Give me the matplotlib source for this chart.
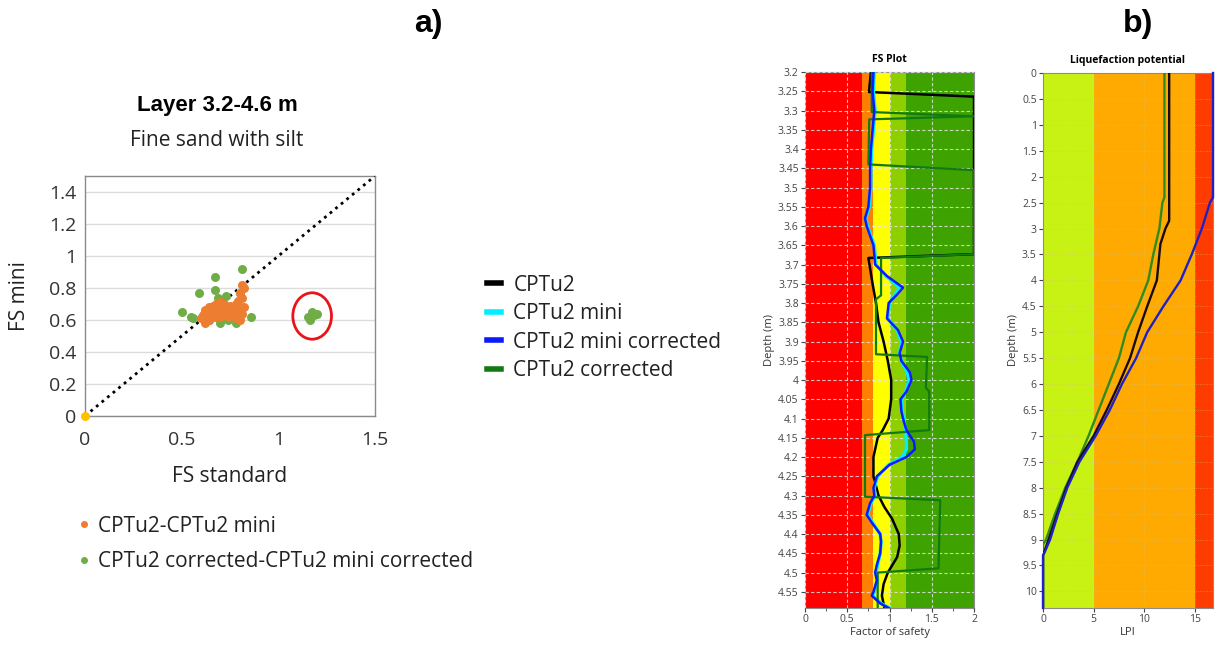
import matplotlib
matplotlib.use("Agg")
import matplotlib.pyplot as plt
from matplotlib.patches import Ellipse
from matplotlib.lines import Line2D
from matplotlib.ticker import MultipleLocator, FuncFormatter

plt.rcParams['font.family'] = ['Open Sans', 'DejaVu Sans']

# ---------------- data: panel a (scatter) ----------------
orange_x = [0.60, 0.61, 0.62, 0.62, 0.63, 0.64, 0.64, 0.65, 0.66, 0.66, 0.67, 0.68, 0.68, 0.69, 0.70,
            0.70, 0.71, 0.72, 0.72, 0.73, 0.74, 0.75, 0.75, 0.76, 0.77, 0.78, 0.78, 0.79, 0.79, 0.80,
            0.80, 0.81, 0.81, 0.82, 0.82, 0.81, 0.80, 0.78, 0.76, 0.74, 0.72, 0.70, 0.68, 0.66, 0.64, 0.62]
orange_y = [0.61, 0.63, 0.60, 0.66, 0.65, 0.62, 0.68, 0.66, 0.63, 0.69, 0.66, 0.64, 0.70, 0.67, 0.65,
            0.71, 0.68, 0.64, 0.70, 0.67, 0.66, 0.63, 0.69, 0.68, 0.65, 0.62, 0.70, 0.66, 0.72, 0.60,
            0.68, 0.64, 0.74, 0.68, 0.80, 0.82, 0.77, 0.61, 0.64, 0.62, 0.66, 0.62, 0.62, 0.62, 0.60, 0.58]
green_x = [0.50, 0.55, 0.56, 0.59, 0.67, 0.67, 0.69, 0.70, 0.73, 0.74, 0.78, 0.79, 0.80, 0.81, 0.86,
           0.72, 0.76, 0.64, 0.70, 1.155, 1.164, 1.172, 1.182, 1.198]
green_y = [0.65, 0.62, 0.61, 0.77, 0.87, 0.79, 0.74, 0.72, 0.75, 0.60, 0.58, 0.60, 0.77, 0.92, 0.62,
           0.61, 0.63, 0.60, 0.58, 0.62, 0.60, 0.65, 0.63, 0.64]
diag_x = [0, 1.5]
diag_y = [0, 1.5]
scatter_xticks = [0, 0.5, 1, 1.5]
scatter_yticks = [0, 0.2, 0.4, 0.6, 0.8, 1.0, 1.2, 1.4]

# ---------------- data: FS plot ----------------
fs_bands = [(0, 0.68, '#ff0000'), (0.68, 0.8, '#ff8000'), (0.8, 1.0, '#ffff00'),
            (1.0, 1.2, '#8fcf00'), (1.2, 2.0, '#3ea300')]
blk_depth = [3.2, 3.252, 3.264, 3.673, 3.683, 3.75, 3.8, 3.85, 3.9, 3.95, 4.0, 4.05, 4.1, 4.13,
             4.15, 4.2, 4.25, 4.3, 4.33, 4.36, 4.4, 4.43, 4.46, 4.5, 4.53, 4.56, 4.592]
blk_fs = [0.78, 0.757, 2.0, 2.0, 0.75, 0.80, 0.84, 0.87, 0.93, 0.98, 1.02, 1.02, 0.99, 0.92,
          0.86, 0.81, 0.81, 0.87, 0.94, 1.03, 1.11, 1.12, 1.09, 0.98, 0.93, 0.91, 0.94]
blue_depth = [3.2, 3.25, 3.3, 3.35, 3.4, 3.45, 3.5, 3.55, 3.58, 3.6, 3.65, 3.7, 3.73, 3.76, 3.78,
              3.8, 3.84, 3.87, 3.9, 3.93, 3.95, 3.98, 4.0, 4.03, 4.05, 4.08, 4.1, 4.13, 4.16, 4.18,
              4.2, 4.22, 4.25, 4.28, 4.3, 4.32, 4.35, 4.37, 4.4, 4.42, 4.45, 4.48, 4.5, 4.52, 4.55,
              4.56, 4.58, 4.592]
blue_fs = [0.81, 0.80, 0.82, 0.80, 0.78, 0.77, 0.77, 0.75, 0.71, 0.73, 0.81, 0.83, 0.97, 1.16, 1.08,
           0.99, 0.97, 1.10, 1.16, 1.12, 1.14, 1.24, 1.26, 1.20, 1.13, 1.14, 1.16, 1.20, 1.29, 1.30,
           1.20, 1.00, 0.85, 0.81, 0.82, 0.77, 0.73, 0.79, 0.89, 0.90, 0.89, 0.85, 0.83, 0.85, 0.81,
           0.79, 0.89, 0.99]
cyan_fs = [0.82, 0.81, 0.83, 0.81, 0.79, 0.78, 0.78, 0.76, 0.72, 0.74, 0.82, 0.84, 0.96, 1.12, 1.06,
           1.00, 0.98, 1.09, 1.14, 1.12, 1.14, 1.21, 1.23, 1.19, 1.14, 1.15, 1.17, 1.19, 1.20, 1.20,
           1.15, 0.99, 0.86, 0.82, 0.83, 0.78, 0.74, 0.80, 0.89, 0.90, 0.89, 0.86, 0.84, 0.86, 0.82,
           0.80, 0.90, 1.00]
grn_depth = [3.2, 3.304, 3.315, 3.323, 3.44, 3.455, 3.673, 3.683, 3.78, 3.79, 3.933, 3.94, 4.02,
             4.03, 4.13, 4.143, 4.303, 4.312, 4.489, 4.50, 4.592]
grn_fs = [0.79, 0.79, 2.0, 0.76, 0.75, 2.0, 2.0, 0.90, 0.90, 0.84, 0.84, 1.445, 1.43,
          1.47, 1.47, 0.71, 0.71, 1.60, 1.58, 0.86, 0.86]
fs_yticks = [3.2, 3.25, 3.3, 3.35, 3.4, 3.45, 3.5, 3.55, 3.6, 3.65, 3.7, 3.75, 3.8, 3.85, 3.9,
             3.95, 4.0, 4.05, 4.1, 4.15, 4.2, 4.25, 4.3, 4.35, 4.4, 4.45, 4.5, 4.55]

# ---------------- data: LPI plot ----------------
lpi_bands = [(0, 5, '#c8f214'), (5, 15, '#ffaa00'), (15, 16.8, '#ff3c00')]
lpi_blk_d = [0, 2.85, 3.0, 3.3, 3.5, 4.0, 4.5, 5.0, 5.5, 6.0, 6.5, 7.0, 7.5, 8.0, 8.5, 9.0, 9.25, 9.3, 10.32]
lpi_blk_v = [12.47, 12.47, 12.1, 11.6, 11.5, 11.25, 10.3, 9.4, 8.6, 7.5, 6.3, 5.0, 3.4, 2.3, 1.4, 0.55, 0.1, 0.0, 0.0]
lpi_blu_d = [0, 2.4, 2.5, 3.0, 3.5, 4.0, 4.5, 5.0, 5.5, 6.0, 6.5, 7.0, 7.5, 8.0, 8.5, 9.0, 9.25, 9.3, 10.32]
lpi_blu_v = [16.8, 16.8, 16.5, 15.7, 14.7, 13.6, 11.9, 10.3, 9.2, 7.8, 6.6, 5.2, 3.6, 2.4, 1.5, 0.7, 0.15, 0.0, 0.0]
lpi_grn_d = [0, 2.4, 2.5, 3.0, 3.5, 4.0, 4.5, 5.0, 5.5, 6.0, 6.5, 7.0, 7.5, 8.0, 8.5, 9.0, 9.1, 10.32]
lpi_grn_v = [12.0, 12.0, 11.8, 11.5, 10.9, 10.4, 9.4, 8.2, 7.5, 6.5, 5.5, 4.5, 3.4, 2.2, 1.2, 0.3, 0.0, 0.0]
lpi_yticks = [0, 0.5, 1, 1.5, 2, 2.5, 3, 3.5, 4, 4.5, 5, 5.5, 6, 6.5, 7, 7.5, 8, 8.5, 9, 9.5, 10]
lpi_xticks = [0, 5, 10, 15]

series_names = ['CPTu2', 'CPTu2 mini', 'CPTu2 mini corrected', 'CPTu2 corrected']
series_colors = ['#000000', '#00f0ff', '#0a1aff', '#127a12']


def fmt(v, pos=None):
    s = ('%.2f' % v).rstrip('0').rstrip('.')
    return s


fig = plt.figure(figsize=(12.18, 6.5), dpi=100)
fig.patch.set_facecolor('white')

# ================= panel a =================
ax = fig.add_axes([85 / 1218, 1 - 416 / 650, 290 / 1218, 240 / 650])
ax.set_xlim(0, 1.5)
ax.set_ylim(0, 1.5)
ax.set_yticks(scatter_yticks)
ax.set_xticks(scatter_xticks)
ax.xaxis.set_major_formatter(FuncFormatter(fmt))
ax.yaxis.set_major_formatter(FuncFormatter(fmt))
ax.tick_params(length=0, labelsize=14, colors='#333333')
ax.tick_params(axis='y', pad=6)
ax.tick_params(axis='x', pad=11)
ax.grid(axis='y', color='#dcdcdc', lw=1)
ax.set_axisbelow(True)
for s in ax.spines.values():
    s.set_color('#8a8a8a')
    s.set_linewidth(1)
ax.plot(diag_x, diag_y, ls=(0, (1, 1.6)), color='black', lw=2, zorder=3)
ax.scatter([diag_x[0]], [diag_y[0]], s=30, color='#ffc000', zorder=5, clip_on=False)
ax.scatter(green_x, green_y, s=42, color='#70ad47', zorder=4, linewidths=0)
ax.scatter(orange_x, orange_y, s=42, color='#ed7d31', zorder=4, linewidths=0)
ax.add_patch(Ellipse((1.175, 0.625), 0.2, 0.29, fill=False, edgecolor='#e8141a', lw=2, zorder=6))
ax.set_xlabel('FS standard', fontsize=15, color='#222222', labelpad=12)
ax.set_ylabel('FS mini', fontsize=15, color='#222222', labelpad=14)

fig.text(217 / 1218, 1 - 106 / 650, 'Layer 3.2-4.6 m', ha='center', va='center',
         fontsize=16, fontweight='bold', family=['Liberation Sans', 'DejaVu Sans'])
fig.text(217 / 1218, 1 - 141 / 650, 'Fine sand with silt', ha='center', va='center',
         fontsize=15, color='#222222')
fig.text(428 / 1218, 1 - 24 / 650, 'a)', ha='center', va='center', fontsize=23,
         fontweight='bold', family=['Liberation Sans', 'DejaVu Sans'])
fig.text(1138 / 1218, 1 - 24 / 650, 'b)', ha='center', va='center', fontsize=23,
         fontweight='bold', family=['Liberation Sans', 'DejaVu Sans'])

sc_handles = [Line2D([], [], ls='', marker='o', ms=4, color='#ed7d31'),
              Line2D([], [], ls='', marker='o', ms=4, color='#70ad47')]
fig.legend(sc_handles, ['CPTu2-CPTu2 mini', 'CPTu2 corrected-CPTu2 mini corrected'],
           loc='upper left', bbox_to_anchor=(59 / 1218, 1 - 497 / 650), frameon=False,
           fontsize=15, handlelength=0.6, handletextpad=0.37, labelspacing=0.69,
           labelcolor='#222222')

# middle legend
ln_handles = [Line2D([], [], color=c, lw=4) for c in series_colors]
fig.legend(ln_handles, series_names, loc='upper left',
           bbox_to_anchor=(468 / 1218, 1 - 256 / 650), frameon=False,
           fontsize=15, handlelength=0.7, handletextpad=0.58, labelspacing=0.36,
           labelcolor='#222222')

# ================= FS plot =================
ax2 = fig.add_axes([805 / 1218, 1 - 608 / 650, 169 / 1218, 536 / 650])
for x0, x1, c in fs_bands:
    ax2.axvspan(x0, x1, color=c, lw=0, zorder=0)
ax2.set_xlim(0, 2)
ax2.set_ylim(4.592, 3.2)
ax2.set_yticks(fs_yticks)
ax2.yaxis.set_major_formatter(FuncFormatter(fmt))
ax2.set_xticks([0, 0.5, 1, 1.5, 2])
ax2.xaxis.set_major_formatter(FuncFormatter(fmt))
ax2.xaxis.set_minor_locator(MultipleLocator(0.25))
ax2.tick_params(labelsize=7.5, colors='#444444', length=3, width=0.8, pad=1.5)
ax2.tick_params(which='minor', length=2, color='#444444')
ax2.grid(True, color='#e8e8e8', ls=(0, (3, 2)), lw=0.8, alpha=0.8)
ax2.set_axisbelow(False)
for s in ax2.spines.values():
    s.set_color('#8c8c8c')
ax2.plot(blk_fs, blk_depth, color=series_colors[0], lw=1.8, zorder=3)
ax2.plot(cyan_fs, blue_depth, color=series_colors[1], lw=2.4, zorder=3)
ax2.plot(blue_fs, blue_depth, color=series_colors[2], lw=1.8, zorder=4)
ax2.plot(grn_fs, grn_depth, color=series_colors[3], lw=1.6, zorder=3)
ax2.set_title('FS Plot', fontsize=7.5, fontweight='bold', pad=7)
ax2.set_xlabel('Factor of safety', fontsize=8, color='#333333', labelpad=1)
ax2.set_ylabel('Depth (m)', fontsize=8, color='#333333', labelpad=2)

# ================= LPI plot =================
ax3 = fig.add_axes([1043 / 1218, 1 - 608 / 650, 170 / 1218, 535 / 650])
for x0, x1, c in lpi_bands:
    ax3.axvspan(x0, x1, color=c, lw=0, zorder=0)
ax3.set_xlim(0, 16.8)
ax3.set_ylim(10.32, 0)
ax3.set_yticks(lpi_yticks)
ax3.yaxis.set_major_formatter(FuncFormatter(fmt))
ax3.set_xticks(lpi_xticks)
ax3.tick_params(labelsize=7.5, colors='#444444', length=3, width=0.8, pad=1.5)
ax3.grid(True, color='#d9c27a', ls=':', lw=0.6, alpha=0.6)
for s in ax3.spines.values():
    s.set_color('#8c8c8c')
ax3.plot(lpi_grn_v, lpi_grn_d, color='#2e8b1e', lw=1.7, zorder=3)
ax3.plot(lpi_blk_v, lpi_blk_d, color='#1a0a0a', lw=1.7, zorder=3)
ax3.plot(lpi_blu_v, lpi_blu_d, color='#2020c8', lw=1.7, zorder=4, clip_on=False)
ax3.set_title('Liquefaction potential', fontsize=7.5, fontweight='bold', pad=7)
ax3.set_xlabel('LPI', fontsize=8, color='#333333', labelpad=1)
ax3.set_ylabel('Depth (m)', fontsize=8, color='#333333', labelpad=2)

fig.savefig('out.png', dpi=100)
